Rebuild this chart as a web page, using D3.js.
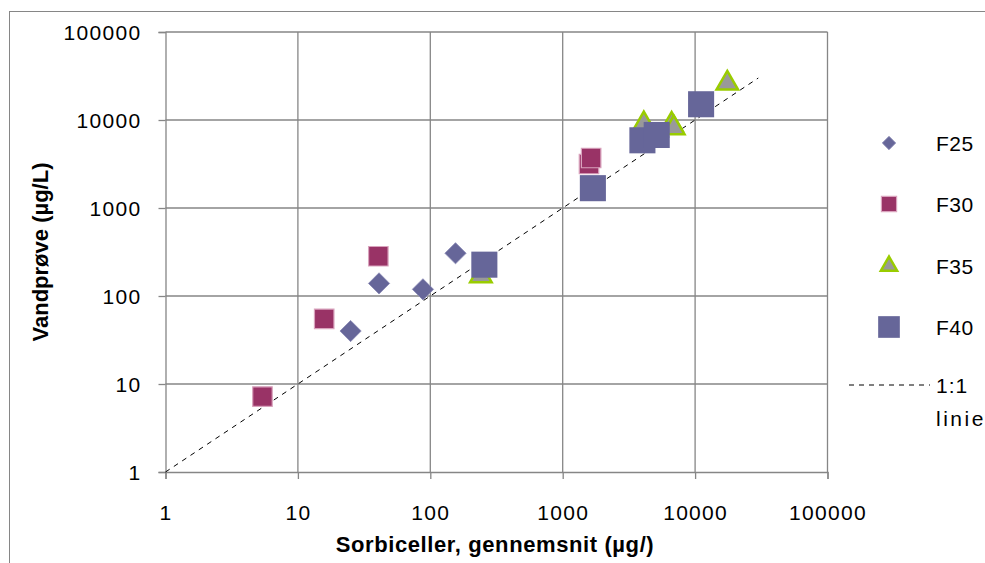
<!DOCTYPE html>
<html>
<head>
<meta charset="utf-8">
<script src="https://cdn.jsdelivr.net/npm/d3@7"></script>
<style>
  body { margin: 0; background: #fff; }
  text { font-family: "Liberation Sans", Arial, sans-serif; fill: #000; }
</style>
</head>
<body>
<div class="chart-container"></div>
<script>
// values (log-log)
const f25X = [25, 41, 88, 155]
const f25Y = [40, 139, 119, 306]
const f30X = [5.4, 15.8, 40.5, 1580, 1640]
const f30Y = [7.2, 55, 283, 3160, 3700]
const f35X = [241, 4100, 6650, 6900, 17500]
const f35Y = [169, 9000, 8900, 8100, 26100]
const f40X = [256, 1690, 4000, 5130, 11100]
const f40Y = [227, 1680, 5880, 6760, 15100]
const lineX = [1, 30000]
const tickValues = [1, 10, 100, 1000, 10000, 100000]

const series = [
  { name: 'F25', xs: f25X, ys: f25Y },
  { name: 'F30', xs: f30X, ys: f30Y },
  { name: 'F35', xs: f35X, ys: f35Y },
  { name: 'F40', xs: f40X, ys: f40Y }
]

const width = 985
const height = 563
const margin = { left: 165.5, top: 32, right: 157.5, bottom: 91 }
const chartWidth = width - margin.left - margin.right
const chartHeight = height - margin.top - margin.bottom

const svg = d3.select('.chart-container')
  .append('svg')
    .attr('width', width)
    .attr('height', height)

// outer frame
svg.append('rect')
  .attr('x', 9.5).attr('y', 11.5)
  .attr('width', 1000).attr('height', 600)
  .attr('fill', 'none').attr('stroke', '#868686')

const g = svg.append('g')
  .attr('transform', `translate(${margin.left}, ${margin.top})`)

const xScale = d3.scaleLog().domain([1, 100000]).range([0, chartWidth])
const yScale = d3.scaleLog().domain([1, 100000]).range([chartHeight, 0])

// grid
g.append('g').selectAll('line').data(tickValues.slice(1)).enter().append('line')
  .attr('x1', d => xScale(d)).attr('x2', d => xScale(d))
  .attr('y1', 0).attr('y2', chartHeight)
  .attr('stroke', '#868686').attr('stroke-width', 1.3)
g.append('g').selectAll('line').data(tickValues.slice(1)).enter().append('line')
  .attr('y1', d => yScale(d)).attr('y2', d => yScale(d))
  .attr('x1', 0).attr('x2', chartWidth)
  .attr('stroke', '#868686').attr('stroke-width', 1.3)

// axes
const xAxis = g.append('g')
  .attr('transform', `translate(0, ${chartHeight})`)
  .call(d3.axisBottom(xScale).tickValues(tickValues).tickFormat(d3.format('d')).tickSize(7).tickPadding(26))
const yAxis = g.append('g')
  .call(d3.axisLeft(yScale).tickValues(tickValues).tickFormat(d3.format('d')).tickSize(7).tickPadding(17))

;[xAxis, yAxis].forEach(a => {
  a.selectAll('.domain, .tick line').attr('stroke', '#868686').attr('stroke-width', 1.3)
  a.selectAll('.tick text')
    .style('font-family', '"Liberation Sans", Arial, sans-serif')
    .style('font-size', '21px')
    .style('letter-spacing', '1.3px')
    .attr('fill', '#000')
})
yAxis.selectAll('.tick text').attr('dy', '0.36em')

// 1:1 line
g.append('line')
  .attr('x1', xScale(lineX[0])).attr('y1', yScale(lineX[0]))
  .attr('x2', xScale(lineX[1])).attr('y2', yScale(lineX[1]))
  .attr('stroke', '#000').attr('stroke-width', 1)
  .attr('stroke-dasharray', '5,5')

const styles = {
  F25: { type: d3.symbolSquare, size: 225, rotate: 45, fill: '#666699', stroke: '#8a8ab5', sw: 0.8, legSize: 90 },
  F30: { type: d3.symbolSquare, size: 380, rotate: 0, fill: '#993366', stroke: '#d9a3bd', sw: 1.2, legSize: 230 },
  F35: { type: d3.symbolTriangle, size: 200, rotate: 0, fill: '#999999', stroke: '#99cc00', sw: 2.5, legSize: 115 },
  F40: { type: d3.symbolSquare, size: 680, rotate: 0, fill: '#666699', stroke: 'none', sw: 0, legSize: 470 }
}

series.forEach(s => {
  const st = styles[s.name]
  const pts = s.xs.map((x, i) => ({ x: x, y: s.ys[i] }))
  g.append('g').selectAll('path').data(pts).enter().append('path')
    .attr('d', d3.symbol().type(st.type).size(st.size))
    .attr('transform', d => `translate(${xScale(d.x)}, ${yScale(d.y)}) rotate(${st.rotate})`)
    .attr('fill', st.fill)
    .attr('stroke', st.stroke)
    .attr('stroke-width', st.sw)
})

// legend
const legend = svg.append('g')
const legY = [143, 204, 266, 327]
series.forEach((s, i) => {
  const st = styles[s.name]
  legend.append('path')
    .attr('d', d3.symbol().type(st.type).size(st.legSize))
    .attr('transform', `translate(889, ${legY[i]}) rotate(${st.rotate})`)
    .attr('fill', st.fill)
    .attr('stroke', st.stroke)
    .attr('stroke-width', st.sw)
  legend.append('text')
    .attr('x', 936).attr('y', legY[i])
    .attr('dy', '0.36em')
    .style('font-size', '21px')
    .style('letter-spacing', '0.5px')
    .text(s.name)
})
legend.append('line')
  .attr('x1', 849).attr('x2', 930).attr('y1', 385).attr('y2', 385)
  .attr('stroke', '#000').attr('stroke-dasharray', '5,5')
legend.append('text')
  .attr('x', 936).attr('y', 385).attr('dy', '0.36em')
  .style('font-size', '21px').style('letter-spacing', '1px')
  .text('1:1')
legend.append('text')
  .attr('x', 936).attr('y', 418).attr('dy', '0.36em')
  .style('font-size', '21px').style('letter-spacing', '2.5px')
  .text('linie')

// axis titles
svg.append('text')
  .attr('x', 495).attr('y', 552)
  .attr('text-anchor', 'middle')
  .style('font-size', '22px').style('font-weight', 'bold')
  .style('letter-spacing', '0.6px')
  .text('Sorbiceller, gennemsnit (µg/)')
svg.append('text')
  .attr('transform', 'translate(48, 252) rotate(-90)')
  .attr('text-anchor', 'middle')
  .style('font-size', '22px').style('font-weight', 'bold')
  .text('Vandprøve (µg/L)')
</script>
</body>
</html>
